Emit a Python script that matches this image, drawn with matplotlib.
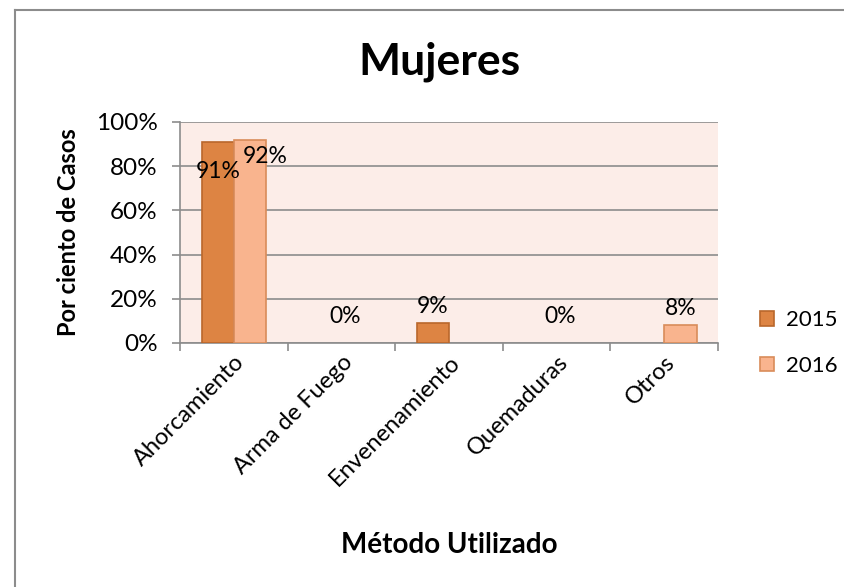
import numpy as np
import matplotlib
matplotlib.use("Agg")
import matplotlib.pyplot as plt
from matplotlib.lines import Line2D

plt.rcParams['font.family'] = ['Lato', 'DejaVu Sans']

metodos = ['Ahorcamiento', 'Arma de Fuego', 'Envenenamiento', 'Quemaduras', 'Otros']
years = ['2015', '2016']
pct_2015 = [91, 0, 9, 0, 0]
pct_2016 = [92, 0, 0, 0, 8]

fill_colors = ['#DD8443', '#F9B48E']
edge_colors = ['#B9672B', '#D98C5A']

fig = plt.figure(figsize=(8.44, 5.87), dpi=100)
ax = fig.add_axes([0.2133, 0.4157, 0.6375, 0.3765])
ax.set_facecolor('#FCEDE8')

x = np.arange(len(metodos))
w = 0.3
series = [pct_2015, pct_2016]
for i, vals in enumerate(series):
    lw = [1.2 if v > 0 else 0 for v in vals]
    ax.bar(x + (i - 0.5) * w, vals, w, color=fill_colors[i], edgecolor=edge_colors[i],
           linewidth=lw, label=years[i], zorder=3)

# data labels
for j in range(len(metodos)):
    a, b = pct_2015[j], pct_2016[j]
    if a == 0 and b == 0:
        ax.text(x[j] + 0.03, 12.2, '0%', ha='center', va='center', fontsize=16.5, zorder=4)
        continue
    for i, v in enumerate((a, b)):
        if v == 0:
            continue
        xp = x[j] + (i - 0.5) * w
        if v > 50:
            # big bars: labels sit just under the top
            yp = v - 13.6 if i == 0 else v - 7.4
            xp = xp if i == 0 else xp + 0.14
        else:
            yp = v + 7.5
        ax.text(xp, yp, '%d%%' % v, ha='center', va='center', fontsize=16.5, zorder=4)

ax.set_xlim(-0.5, len(metodos) - 0.5)
ax.set_ylim(0, 100)
ax.set_yticks(np.arange(0, 101, 20))
ax.set_yticklabels(['%d%%' % t for t in range(0, 101, 20)], fontsize=17.5)
ax.set_xticks(np.arange(len(metodos) + 1) - 0.5, minor=False)
ax.set_xticklabels([''] * (len(metodos) + 1))
ax.set_xticks(x, minor=True)
ax.set_xticklabels(metodos, minor=True, rotation=45, ha='right', rotation_mode='anchor', fontsize=17)
ax.tick_params(axis='x', which='minor', length=0, pad=6)
ax.tick_params(axis='x', which='major', length=6, color='#8C8C8C', width=1.2)
ax.tick_params(axis='y', length=6, color='#8C8C8C', width=1.2, pad=10)

ax.grid(axis='y', color='#8C8C8C', linewidth=1.2, zorder=0)
for s in ['top', 'right']:
    ax.spines[s].set_visible(False)
for s in ['left', 'bottom']:
    ax.spines[s].set_color('#8C8C8C')
    ax.spines[s].set_linewidth(1.2)

ax.set_ylabel('Por ciento de Casos', fontsize=17, fontweight='bold')
ax.yaxis.set_label_coords(-0.186, 0.5)
ax.set_xlabel('Método Utilizado', fontsize=20, fontweight='bold')
ax.xaxis.set_label_coords(0.5, -0.914)
ax.xaxis.label.set_va('center')

fig.text(0.521, 0.894, 'Mujeres', ha='center', va='center', fontsize=32, fontweight='bold')

leg = ax.legend(loc='center left', bbox_to_anchor=(1.078, 0.0), frameon=False, fontsize=16,
                handlelength=0.65, handleheight=0.65, labelspacing=1.15, handletextpad=0.5,
                borderpad=0, borderaxespad=0)

# chart frame (left and top edges only visible in the crop)
fig.add_artist(Line2D([15 / 844, 15 / 844], [0, 1 - 10 / 587], color='#8C8C8C', linewidth=1.5))
fig.add_artist(Line2D([15 / 844, 1], [1 - 10 / 587, 1 - 10 / 587], color='#8C8C8C', linewidth=1.5))

fig.savefig('out.png', dpi=100)
